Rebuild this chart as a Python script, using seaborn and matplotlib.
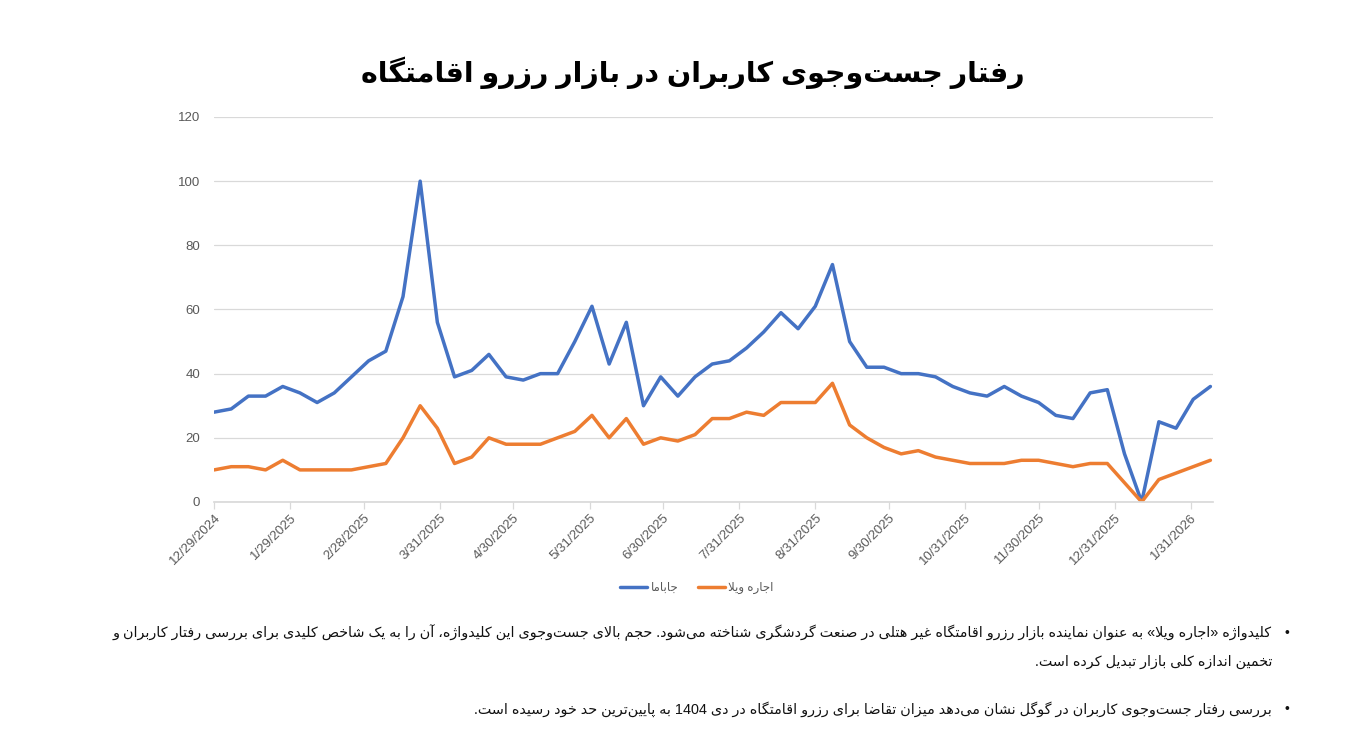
import re
import pandas as pd
import seaborn as sns
import matplotlib.pyplot as plt

# weekly search index (Google Trends style)
jabama = [28, 29, 33, 33, 36, 34, 31, 34, 39, 44,
          47, 64, 100, 56, 39, 41, 46, 39, 38, 40,
          40, 50, 61, 43, 56, 30, 39, 33, 39, 43,
          44, 48, 53, 59, 54, 61, 74, 50, 42, 42,
          40, 40, 39, 36, 34, 33, 36, 33, 31, 27,
          26, 34, 35, 15, 0, 25, 23, 32, 36]
villa = [10, 11, 11, 10, 13, 10, 10, 10, 10, 11,
         12, 20, 30, 23, 12, 14, 20, 18, 18, 18,
         20, 22, 27, 20, 26, 18, 20, 19, 21, 26,
         26, 28, 27, 31, 31, 31, 37, 24, 20, 17,
         15, 16, 14, 13, 12, 12, 12, 13, 13, 12,
         11, 12, 12, 6, 0, 7, 9, 11, 13]
weeks = pd.date_range("2024-12-29", periods=len(jabama), freq="7D")

tick_dates = ["2024-12-29", "2025-01-29", "2025-02-28", "2025-03-31", "2025-04-30",
              "2025-05-31", "2025-06-30", "2025-07-31", "2025-08-31", "2025-09-30",
              "2025-10-31", "2025-11-30", "2025-12-31", "2026-01-31"]
y_ticks = [0, 20, 40, 60, 80, 100, 120]

title = "رفتار جست‌وجوی کاربران در بازار رزرو اقامتگاه"
label_jabama = "جاباما"
label_villa = "اجاره ویلا"
note_1a = ("کلیدواژه «اجاره ویلا» به عنوان نماینده بازار رزرو اقامتگاه غیر هتلی در صنعت گردشگری شناخته می‌شود. "
           "حجم بالای جست‌وجوی این کلیدواژه، آن را به یک شاخص کلیدی برای بررسی رفتار کاربران و")
note_1b = "تخمین اندازه کلی بازار تبدیل کرده است."
note_2 = "بررسی رفتار جست‌وجوی کاربران در گوگل نشان می‌دهد میزان تقاضا برای رزرو اقامتگاه در دی 1404 به پایین‌ترین حد خود رسیده است."

# matplotlib does no arabic shaping, so do a tiny one by hand
FORMS = {
    "ا": ("\uFE8D", "\uFE8E", None, None), "آ": ("\uFE81", "\uFE82", None, None),
    "ب": ("\uFE8F", "\uFE90", "\uFE91", "\uFE92"), "پ": ("\uFB56", "\uFB57", "\uFB58", "\uFB59"),
    "ت": ("\uFE95", "\uFE96", "\uFE97", "\uFE98"), "ث": ("\uFE99", "\uFE9A", "\uFE9B", "\uFE9C"),
    "ج": ("\uFE9D", "\uFE9E", "\uFE9F", "\uFEA0"), "چ": ("\uFB7A", "\uFB7B", "\uFB7C", "\uFB7D"),
    "ح": ("\uFEA1", "\uFEA2", "\uFEA3", "\uFEA4"), "خ": ("\uFEA5", "\uFEA6", "\uFEA7", "\uFEA8"),
    "د": ("\uFEA9", "\uFEAA", None, None), "ذ": ("\uFEAB", "\uFEAC", None, None),
    "ر": ("\uFEAD", "\uFEAE", None, None), "ز": ("\uFEAF", "\uFEB0", None, None),
    "ژ": ("\uFB8A", "\uFB8B", None, None),
    "س": ("\uFEB1", "\uFEB2", "\uFEB3", "\uFEB4"), "ش": ("\uFEB5", "\uFEB6", "\uFEB7", "\uFEB8"),
    "ص": ("\uFEB9", "\uFEBA", "\uFEBB", "\uFEBC"), "ض": ("\uFEBD", "\uFEBE", "\uFEBF", "\uFEC0"),
    "ط": ("\uFEC1", "\uFEC2", "\uFEC3", "\uFEC4"), "ظ": ("\uFEC5", "\uFEC6", "\uFEC7", "\uFEC8"),
    "ع": ("\uFEC9", "\uFECA", "\uFECB", "\uFECC"), "غ": ("\uFECD", "\uFECE", "\uFECF", "\uFED0"),
    "ف": ("\uFED1", "\uFED2", "\uFED3", "\uFED4"), "ق": ("\uFED5", "\uFED6", "\uFED7", "\uFED8"),
    "ک": ("\uFB8E", "\uFB8F", "\uFB90", "\uFB91"), "گ": ("\uFB92", "\uFB93", "\uFB94", "\uFB95"),
    "ل": ("\uFEDD", "\uFEDE", "\uFEDF", "\uFEE0"), "م": ("\uFEE1", "\uFEE2", "\uFEE3", "\uFEE4"),
    "ن": ("\uFEE5", "\uFEE6", "\uFEE7", "\uFEE8"), "و": ("\uFEED", "\uFEEE", None, None),
    "ه": ("\uFEE9", "\uFEEA", "\uFEEB", "\uFEEC"), "ی": ("\uFBFC", "\uFBFD", "\uFBFE", "\uFBFF"),
}
LAM_ALEF = {"ا": ("\uFEFB", "\uFEFC"), "آ": ("\uFEF5", "\uFEF6")}


def joins_next(c):
    return c in FORMS and FORMS[c][2] is not None


def fa(text):
    out = []
    i = 0
    while i < len(text):
        c = text[i]
        if c not in FORMS:
            if c != "\u200c":
                out.append(c)
            i += 1
            continue
        prev = text[i - 1] if i > 0 else ""
        nxt = text[i + 1] if i + 1 < len(text) else ""
        if c == "ل" and nxt in LAM_ALEF:
            out.append(LAM_ALEF[nxt][1] if joins_next(prev) else LAM_ALEF[nxt][0])
            i += 2
            continue
        iso, fin, ini, med = FORMS[c]
        a, b = joins_next(prev), joins_next(c) and nxt in FORMS
        out.append(med if a and b else fin if a else ini if b else iso)
        i += 1
    tokens = re.findall(r"\d+|\D", "".join(out))
    return "".join(reversed(tokens)).translate(str.maketrans("«»", "»«"))


sns.set_theme(style="white")
plt.rcParams["font.family"] = ["Liberation Sans", "DejaVu Sans"]

df = pd.DataFrame({"week": weeks, "jabama": jabama, "villa": villa})

fig = plt.figure(figsize=(13.72, 7.38), dpi=100)
ax = fig.add_axes([0.156, 0.3198, 0.728, 0.5217])

sns.lineplot(data=df, x="week", y="jabama", color="#4472C4", linewidth=2.5, label=fa(label_jabama), ax=ax)
sns.lineplot(data=df, x="week", y="villa", color="#ED7D31", linewidth=2.5, label=fa(label_villa), ax=ax)

ax.set_xlim(weeks[0], weeks[-1] + pd.Timedelta(days=1))
ax.set_ylim(0, 120)
ax.set_yticks(y_ticks)
ax.set_xticks(pd.to_datetime(tick_dates))
ax.set_xticklabels([f"{d.month}/{d.day}/{d.year}" for d in pd.to_datetime(tick_dates)],
                   rotation=45, ha="right", rotation_mode="anchor")
ax.set_xlabel("")
ax.set_ylabel("")
ax.grid(axis="y", color="#D9D9D9", linewidth=0.9)
ax.set_axisbelow(True)
for s in ["top", "right", "left"]:
    ax.spines[s].set_visible(False)
ax.spines["bottom"].set_color("#D9D9D9")
ax.tick_params(axis="x", colors="#595959", labelsize=9.5, length=5, width=0.9, color="#D9D9D9",
               direction="out", bottom=True, pad=2)
ax.tick_params(axis="y", colors="#595959", labelsize=9.5, length=0, pad=10)

ax.legend_.remove()
fig.legend(*ax.get_legend_handles_labels(), loc="center", bbox_to_anchor=(0.508, 0.203), ncol=2,
           frameon=False, fontsize=8.5, labelcolor="#595959", handlelength=2.3, columnspacing=1.6,
           handletextpad=0.3)

fig.text(0.505, 0.902, fa(title), ha="center", va="center", fontsize=20.5, fontweight="bold", color="black")

fig.text(1272 / 1372, 1 - 633 / 738, fa(note_1a), ha="right", va="center", fontsize=10.35, color="#111111")
fig.text(1272 / 1372, 1 - 662 / 738, fa(note_1b), ha="right", va="center", fontsize=10.35, color="#111111")
fig.text(1272 / 1372, 1 - 709 / 738, fa(note_2), ha="right", va="center", fontsize=10.35, color="#111111")
for yy in [633, 709]:
    fig.text(1287 / 1372, 1 - yy / 738, "•", ha="center", va="center", fontsize=10, color="#111111")

fig.savefig("out.png", dpi=100)
